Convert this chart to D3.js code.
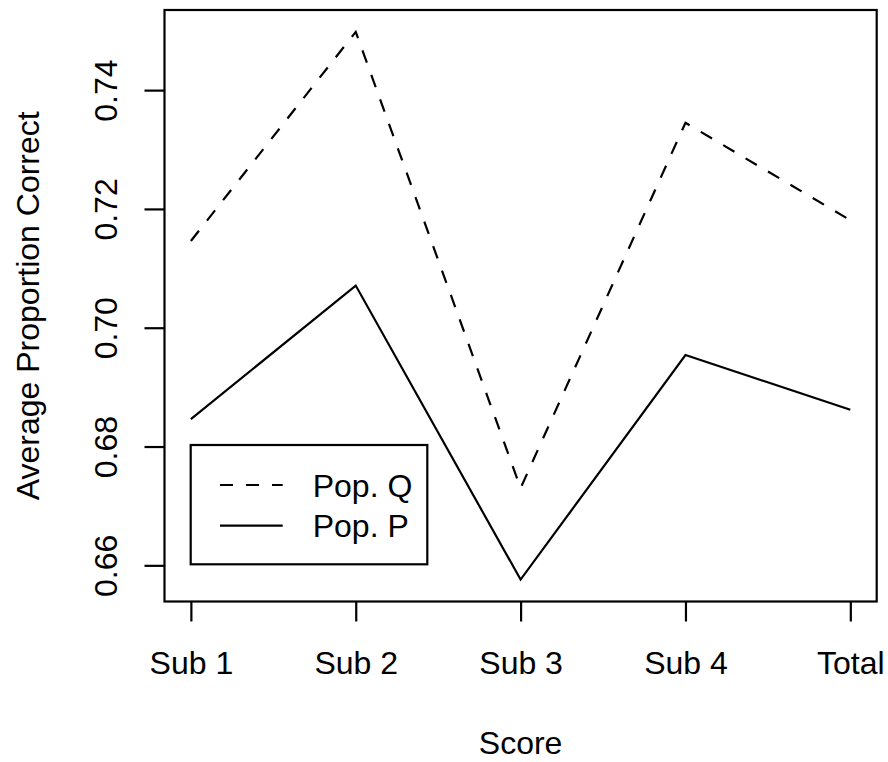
<!DOCTYPE html>
<html>
<head>
<meta charset="utf-8">
<script src="https://cdn.jsdelivr.net/npm/d3@7"></script>
<style>
  html, body { margin: 0; padding: 0; background: #fff; }
  svg text { font-family: "Liberation Sans", Arial, Helvetica, sans-serif; fill: #000; }
</style>
</head>
<body>
<svg id="chart" width="888" height="762"></svg>
<script>
const categories = ["Sub 1", "Sub 2", "Sub 3", "Sub 4", "Total"];
const popQ = [0.7146, 0.7498, 0.6730, 0.7345, 0.7181];
const popP = [0.6846, 0.7071, 0.6576, 0.6954, 0.6862];
const yTicks = [0.66, 0.68, 0.70, 0.72, 0.74];
const seriesNames = ["Pop. Q", "Pop. P"];

const W = 888, H = 762;
const margin = { left: 164.5, right: 11.3, top: 10, bottom: 160.5 };
const fs = 32;

const svg = d3.select("#chart");

// R-style 4% padding on both axes
const n = categories.length;
const xPad = (n - 1) * 0.04;
const x = d3.scaleLinear()
  .domain([0 - xPad, (n - 1) + xPad])
  .range([margin.left, W - margin.right]);

const all = popQ.concat(popP);
const [ymin, ymax] = d3.extent(all);
const yPad = (ymax - ymin) * 0.04;
const y = d3.scaleLinear()
  .domain([ymin - yPad, ymax + yPad])
  .range([H - margin.bottom, margin.top]);

const lw = 2.2;

// Lines
const line = d3.line().x((d, i) => x(i)).y(d => y(d));
svg.append("path").datum(popQ)
  .attr("d", line).attr("fill", "none").attr("stroke", "#000")
  .attr("stroke-width", lw).attr("stroke-dasharray", "13,13");
svg.append("path").datum(popP)
  .attr("d", line).attr("fill", "none").attr("stroke", "#000")
  .attr("stroke-width", lw);

// Box
svg.append("rect")
  .attr("x", margin.left).attr("y", margin.top)
  .attr("width", W - margin.left - margin.right)
  .attr("height", H - margin.top - margin.bottom)
  .attr("fill", "none").attr("stroke", "#000").attr("stroke-width", lw);

// X axis
const xAxis = d3.axisBottom(x)
  .tickValues(d3.range(n))
  .tickFormat(i => categories[i])
  .tickSize(20);
const gx = svg.append("g")
  .attr("transform", `translate(0,${H - margin.bottom})`)
  .call(xAxis);
gx.select(".domain").remove();
gx.selectAll(".tick line").attr("stroke", "#000").attr("stroke-width", lw);
gx.selectAll(".tick text")
  .attr("y", 674 - (H - margin.bottom)).attr("dy", 0)
  .style("font-size", fs + "px").attr("fill", "#000");

// Y axis
const yAxis = d3.axisLeft(y)
  .tickValues(yTicks)
  .tickFormat(d3.format(".2f"))
  .tickSize(20);
const gy = svg.append("g")
  .attr("transform", `translate(${margin.left},0)`)
  .call(yAxis);
gy.select(".domain").remove();
gy.selectAll(".tick line").attr("stroke", "#000").attr("stroke-width", lw);
gy.selectAll(".tick text")
  .attr("x", 0).attr("y", 117 - margin.left).attr("dy", 0)
  .attr("transform", "rotate(-90)")
  .attr("text-anchor", "middle")
  .style("font-size", fs + "px").attr("fill", "#000");

// Axis titles
svg.append("text")
  .attr("x", (margin.left + W - margin.right) / 2).attr("y", 754)
  .attr("text-anchor", "middle").style("font-size", fs + "px")
  .text("Score");
svg.append("text")
  .attr("transform", `translate(39,${(margin.top + H - margin.bottom) / 2}) rotate(-90)`)
  .attr("text-anchor", "middle").style("font-size", fs + "px")
  .text("Average Proportion Correct");

// Legend
const lg = svg.append("g");
lg.append("rect")
  .attr("x", 190.7).attr("y", 445).attr("width", 236.6).attr("height", 119.3)
  .attr("fill", "#fff").attr("stroke", "#000").attr("stroke-width", lw);
const legendRows = [
  { name: seriesNames[0], dash: "13,13", ly: 485, ty: 496.7 },
  { name: seriesNames[1], dash: null, ly: 525.7, ty: 536.5 }
];
legendRows.forEach(r => {
  lg.append("line")
    .attr("x1", 220).attr("x2", 282.7).attr("y1", r.ly).attr("y2", r.ly)
    .attr("stroke", "#000").attr("stroke-width", lw)
    .attr("stroke-dasharray", r.dash);
  lg.append("text")
    .attr("x", 312.7).attr("y", r.ty)
    .style("font-size", fs + "px").text(r.name);
});
</script>
</body>
</html>
